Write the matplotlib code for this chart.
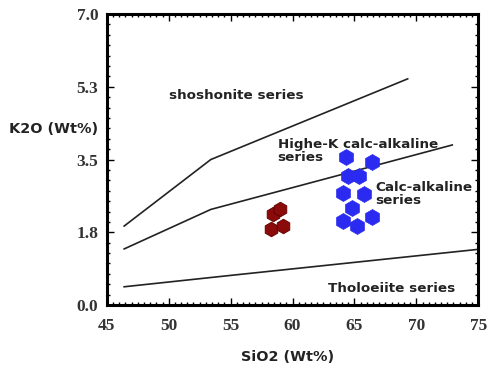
import matplotlib
matplotlib.use("Agg")
import matplotlib.pyplot as plt
from matplotlib.ticker import MultipleLocator

# Boundary lines (SiO2, K2O)
shosh_x = [46.4, 53.4, 69.3]
shosh_y = [1.90, 3.50, 5.44]
highk_x = [46.4, 53.4, 72.9]
highk_y = [1.35, 2.30, 3.85]
thol_x = [46.4, 55.2, 75.0]
thol_y = [0.44, 0.72, 1.34]

# Samples
red_x = [58.4, 59.0, 58.3, 59.25]
red_y = [2.20, 2.32, 1.83, 1.89]
blue_x = [64.3, 66.4, 64.5, 65.35, 64.1, 65.8, 64.8, 64.1, 65.2, 66.4]
blue_y = [3.55, 3.43, 3.11, 3.11, 2.70, 2.66, 2.34, 2.03, 1.89, 2.12]

xticks = [45, 50, 55, 60, 65, 70, 75]
yticks = [0.0, 1.75, 3.5, 5.25, 7.0]
ytick_labels = ["0.0", "1.8", "3.5", "5.3", "7.0"]

fig = plt.figure(figsize=(4.9, 3.68), dpi=100)
ax = fig.add_axes([0.218, 0.171, 0.758, 0.791])

line_kw = dict(color="#222222", lw=1.2)
ax.plot(shosh_x, shosh_y, **line_kw)
ax.plot(highk_x, highk_y, **line_kw)
ax.plot(thol_x, thol_y, **line_kw)

ax.plot(red_x, red_y, "h", ms=10.5, mfc="#8b0a0a", mec="#5a0000", mew=0.6, ls="none")
ax.plot(blue_x, blue_y, "h", ms=11.5, mfc="#2a2af0", mec="#2a2af0", mew=0.5, ls="none")

ax.set_xlim(45, 75)
ax.set_ylim(0, 7)
ax.set_xticks(xticks)
ax.set_yticks(yticks)
ax.set_yticklabels(ytick_labels)
ax.xaxis.set_minor_locator(MultipleLocator(0.5))
ax.yaxis.set_minor_locator(MultipleLocator(0.25))
ax.tick_params(which="both", direction="in", top=True, right=True, width=1)
ax.tick_params(which="major", length=5)
ax.tick_params(which="minor", length=2.5)
for lab in ax.get_xticklabels() + ax.get_yticklabels():
    lab.set_fontfamily("Liberation Serif")
    lab.set_fontweight("bold")
    lab.set_fontsize(12.5)
    lab.set_color("#333333")
ax.tick_params(axis="x", pad=9)
ax.tick_params(axis="y", pad=6)
for s in ax.spines.values():
    s.set_linewidth(2.2)

tkw = dict(fontfamily="DejaVu Sans", fontweight="bold", fontsize=9.7, color="#222222")
ax.text(50.0, 5.05, "shoshonite series", ha="left", va="center", **tkw)
ax.text(58.8, 3.70, "Highe-K calc-alkaline\nseries", ha="left", va="center",
        linespacing=1.0, **tkw)
ax.text(66.7, 2.68, "Calc-alkaline\nseries", ha="left", va="center",
        linespacing=1.0, **tkw)
ax.text(62.9, 0.41, "Tholoeiite series", ha="left", va="center", **tkw)

fig.text(98 / 490, 1 - 129 / 368, "K2O (Wt%)", ha="right", va="center",
         fontfamily="DejaVu Sans", fontweight="bold", fontsize=10.4, color="#222222")
fig.text(288 / 490, 1 - 357 / 368, "SiO2 (Wt%)", ha="center", va="center",
         fontfamily="DejaVu Sans", fontweight="bold", fontsize=10.4, color="#222222")

fig.savefig("out.png", dpi=100, facecolor="white")
